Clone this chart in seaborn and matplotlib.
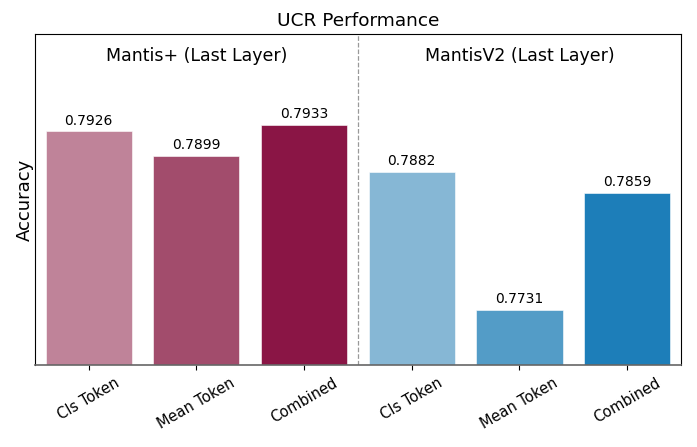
import matplotlib
matplotlib.use("Agg")
import matplotlib.pyplot as plt
import pandas as pd
import seaborn as sns

# data
models = ["Mantis+ (Last Layer)", "MantisV2 (Last Layer)"]
methods = ["Cls Token", "Mean Token", "Combined"]
mantis_plus_acc = [0.7926, 0.7899, 0.7933]
mantis_v2_acc = [0.7882, 0.7731, 0.7859]
bar_colors = ["#bf8399", "#a24c6c", "#8a1545", "#86b7d5", "#539cc7", "#1d7eb9"]

rows = []
for model, accs in zip(models, [mantis_plus_acc, mantis_v2_acc]):
    for method, acc in zip(methods, accs):
        rows.append({"key": f"{model} | {method}", "method": method, "accuracy": acc})
df = pd.DataFrame(rows)

fig, ax = plt.subplots(figsize=(6.97, 4.47), dpi=100)
fig.subplots_adjust(left=0.050, right=0.977, top=0.924, bottom=0.183)

sns.barplot(
    data=df, x="key", y="accuracy", hue="key", palette=bar_colors,
    saturation=1, width=0.8, legend=False, ax=ax,
    edgecolor="white", linewidth=0.4,
)

for patch, acc in zip(ax.patches, df["accuracy"]):
    ax.text(patch.get_x() + patch.get_width() / 2, acc + 0.0004, f"{acc:.4f}",
            ha="center", va="bottom", fontsize=10)

ax.set_xlim(-0.5, len(df) - 0.5)
ax.set_ylim(0.7671, 0.8032)
ax.set_xticks(range(len(df)))
ax.set_xticklabels(df["method"], rotation=30, fontsize=10.5)
ax.set_yticks([])
ax.set_xlabel("")
ax.set_ylabel("Accuracy", fontsize=13, labelpad=1)
ax.set_title("UCR Performance", fontsize=13.3)

ax.axvline(2.5, color="#999999", linestyle="--", linewidth=0.9)
ax.text(0.25, 0.935, models[0], transform=ax.transAxes, ha="center", va="center", fontsize=12.5)
ax.text(0.75, 0.935, models[1], transform=ax.transAxes, ha="center", va="center", fontsize=12.5)

ax.spines["bottom"].set_color("#666666")
ax.spines["bottom"].set_linewidth(1.2)

fig.savefig("out.png", dpi=100)
